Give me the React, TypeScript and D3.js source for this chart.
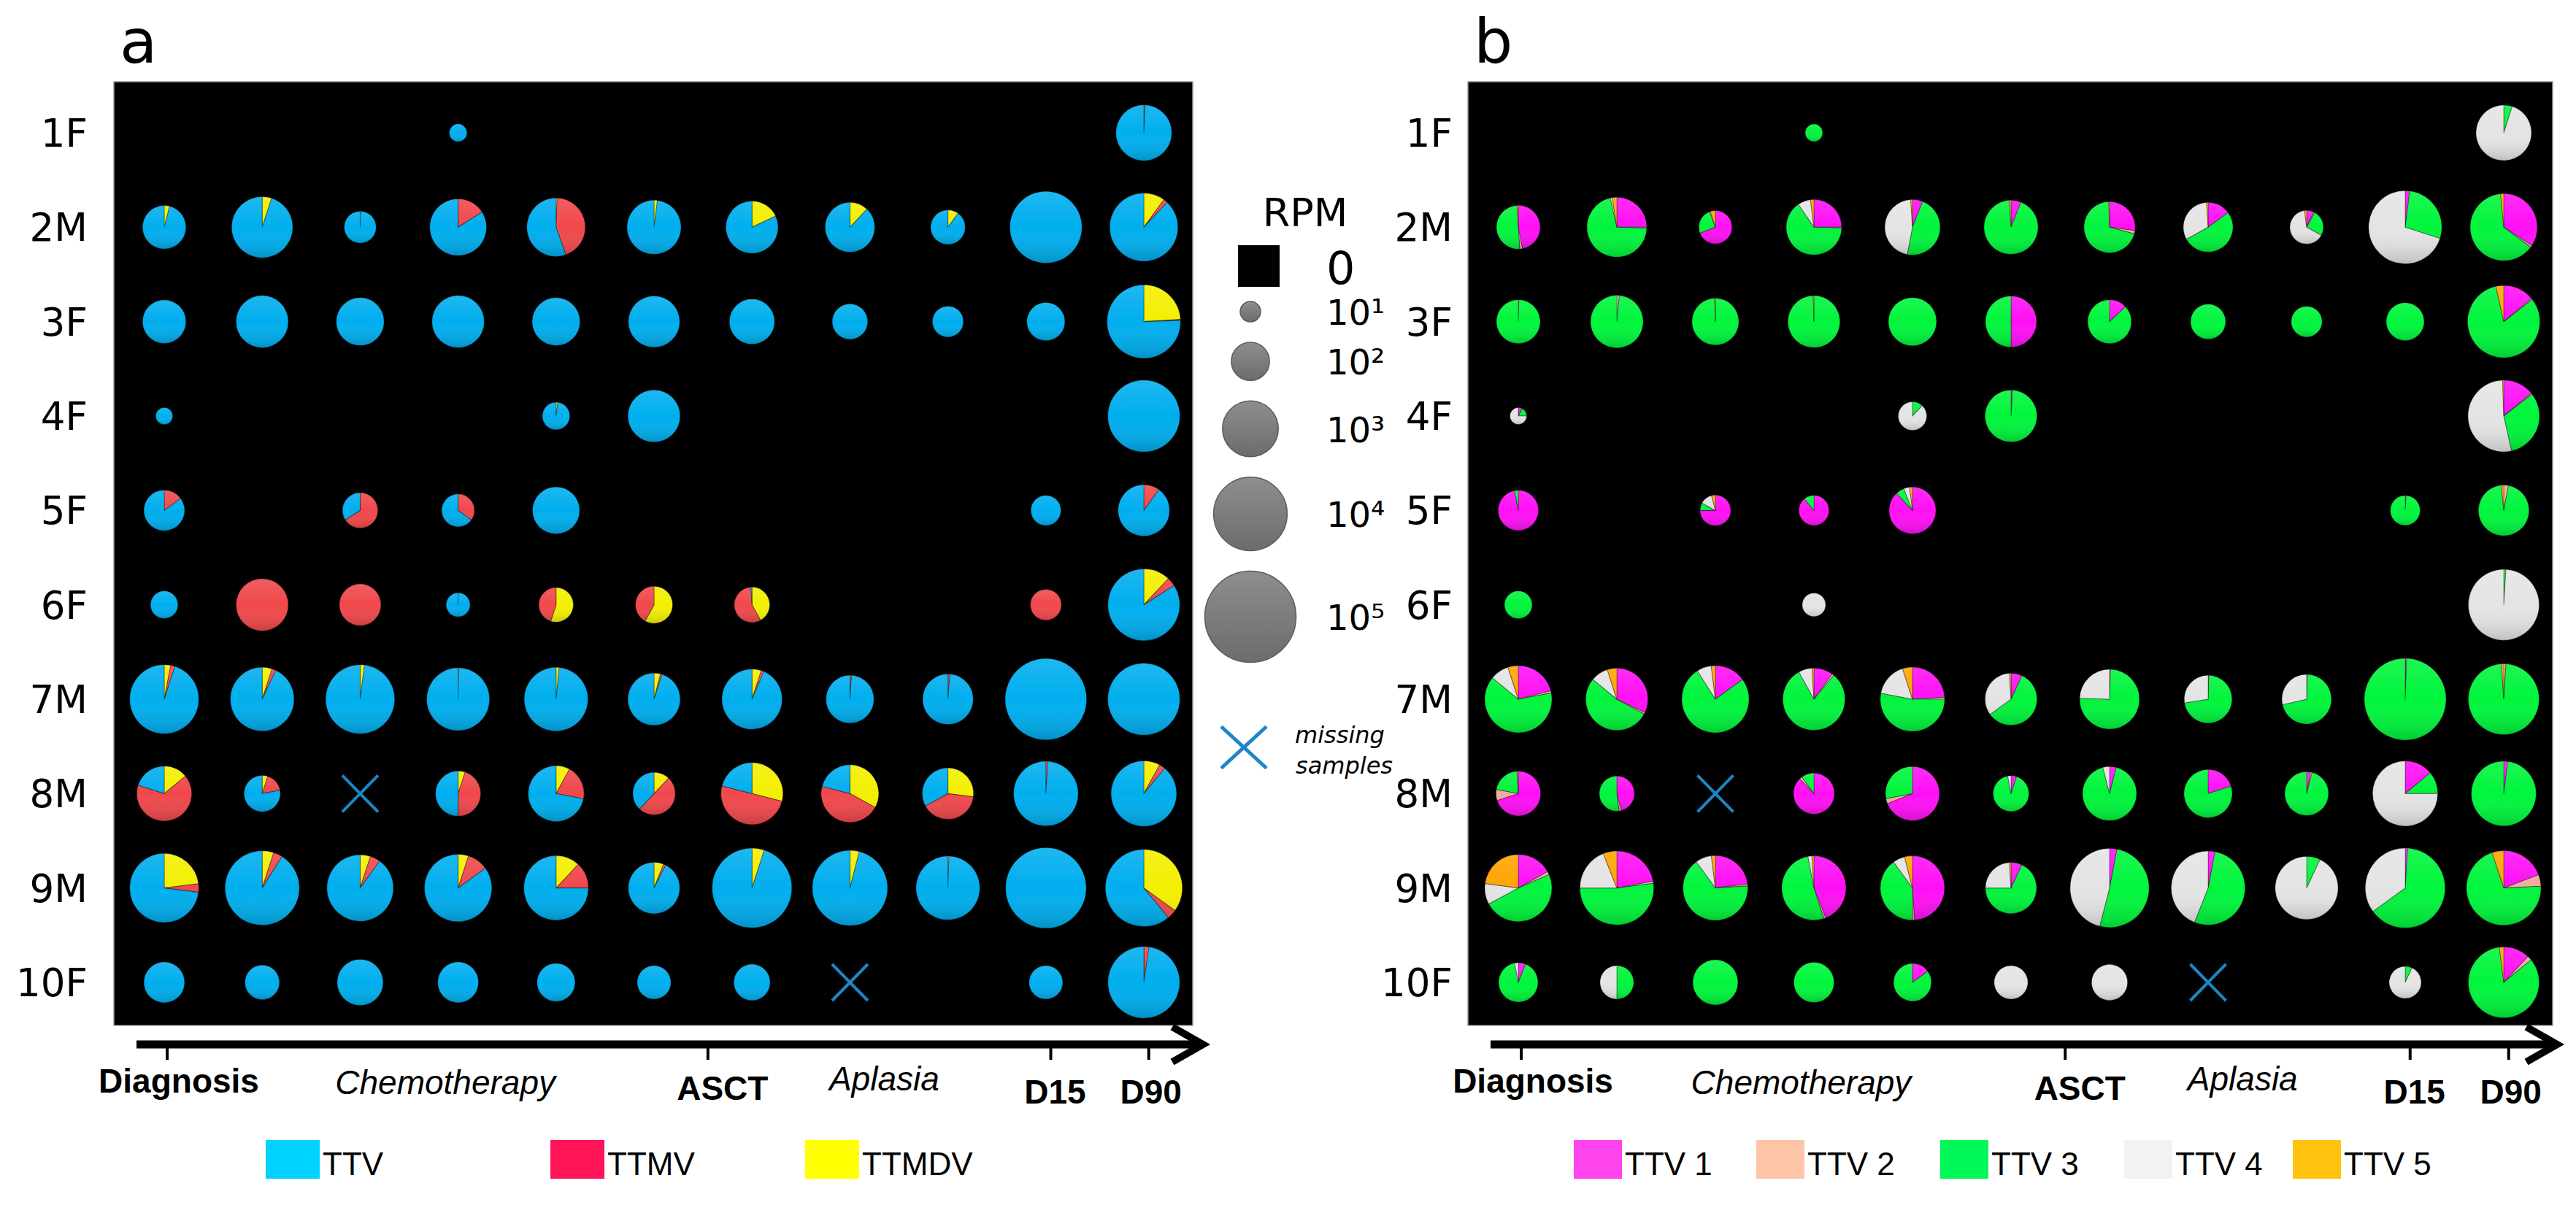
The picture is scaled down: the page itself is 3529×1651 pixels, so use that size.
import React from 'react';
import * as d3 from 'd3';

// patients (rows) and sampling points (columns)
const patients = ['1F', '2M', '3F', '4F', '5F', '6F', '7M', '8M', '9M', '10F'];
const samples = d3.range(11);

// log10(RPM) per patient / sample; 0 = not detected, null = missing sample
const rpmA: (number | null)[][] = [
  [0, 0, 0, 0.85, 0, 0, 0, 0, 0, 0, 3.0],
  [2.3, 3.3, 1.65, 3.05, 3.15, 2.9, 2.8, 2.65, 1.8, 3.9, 3.7],
  [2.3, 2.8, 2.55, 2.8, 2.55, 2.75, 2.4, 1.85, 1.6, 2.0, 4.0],
  [0.8, 0, 0, 0, 1.4, 2.8, 0, 0, 0, 0, 3.9],
  [2.15, 0, 1.85, 1.7, 2.5, 0, 0, 0, 0, 1.55, 2.75],
  [1.4, 2.8, 2.2, 1.2, 1.8, 1.95, 1.85, 0, 0, 1.6, 3.9],
  [3.75, 3.45, 3.75, 3.4, 3.45, 2.8, 3.25, 2.55, 2.7, 4.45, 3.9],
  [2.95, 1.9, null, 2.4, 3.0, 2.25, 3.35, 3.1, 2.75, 3.5, 3.55],
  [3.75, 4.05, 3.6, 3.65, 3.5, 2.75, 4.35, 4.1, 3.45, 4.4, 4.2],
  [2.15, 1.8, 2.45, 2.15, 2.0, 1.75, 1.9, null, 0, 1.75, 3.9],
];

// panel a: share (%) of each anellovirus genus
const ttmdvA = [
  [0, 0, 0, 0, 0, 0, 0, 0, 0, 0, 0.4],
  [4, 5, 0.6, 0, 0.6, 2, 18, 12, 10, 0, 10],
  [0, 0, 0, 0, 0, 0, 0, 0, 0, 0, 24],
  [0, 0, 0, 0, 2, 0, 0, 0, 0, 0, 0],
  [0, 0, 0, 0, 0, 0, 0, 0, 0, 0, 0],
  [0, 0, 0, 0.3, 55, 58, 42, 0, 0, 0, 12],
  [3, 5, 2, 0.3, 1.5, 4, 5, 0.3, 0.3, 0, 0],
  [14, 5, 0, 5, 8, 12, 29, 33, 27, 0, 8],
  [23, 5, 5, 5, 12, 6, 5, 4, 0.5, 0, 35],
  [0, 0, 0, 0, 0, 0, 0, 0, 0, 0, 0.3],
];
const ttmvA = [
  [0, 0, 0, 0, 0, 0, 0, 0, 0, 0, 0.3],
  [0, 0, 0, 16, 44, 0, 0, 0, 0, 0, 2],
  [0, 0, 0, 0, 0, 0, 0, 0, 0, 0, 0.5],
  [0, 0, 0, 0, 0, 0, 0, 0, 0, 0, 0],
  [15, 0, 66, 35, 0, 0, 0, 0, 0, 0, 10],
  [0, 100, 100, 0, 45, 42, 57, 0, 0, 100, 4],
  [2, 2, 0, 0, 0, 1, 1.5, 0.8, 1, 0, 0],
  [66, 17, 0, 45, 20, 50, 50, 46, 40, 1, 3],
  [4, 4, 5, 10, 13, 1.5, 0, 0, 0, 0, 4],
  [0, 0, 0, 0, 0, 0, 0, 0, 0, 0, 2],
];
const ttvA = [
  [0, 0, 0, 100, 0, 0, 0, 0, 0, 0, 99.3],
  [96, 95, 99.4, 84, 55.4, 98, 82, 88, 90, 100, 88],
  [100, 100, 100, 100, 100, 100, 100, 100, 100, 100, 75.5],
  [100, 0, 0, 0, 98, 100, 0, 0, 0, 0, 100],
  [85, 0, 34, 65, 100, 0, 0, 0, 0, 100, 90],
  [100, 0, 0, 99.7, 0, 0, 1, 0, 0, 0, 84],
  [95, 93, 98, 99.7, 98.5, 95, 93.5, 98.9, 98.7, 100, 100],
  [20, 78, 0, 50, 72, 38, 21, 21, 33, 99, 89],
  [73, 91, 90, 85, 75, 92.5, 95, 96, 99.5, 100, 61],
  [100, 100, 100, 100, 100, 100, 100, 0, 0, 100, 97.7],
];

// panel b: TTV species
const rpmB: (number | null)[][] = [
  [0, 0, 0, 0.83, 0, 0, 0, 0, 0, 0, 2.98],
  [2.32, 3.23, 1.72, 2.98, 2.98, 2.9, 2.74, 2.65, 1.74, 3.98, 3.64],
  [2.32, 2.82, 2.49, 2.79, 2.57, 2.74, 2.32, 1.83, 1.58, 1.99, 3.93],
  [0.79, 0, 0, 0, 1.46, 2.78, 0, 0, 0, 0, 3.89],
  [2.12, 0, 1.58, 1.55, 2.49, 0, 0, 0, 0, 1.53, 2.71],
  [1.41, 0, 0, 1.17, 0, 0, 0, 0, 0, 0, 3.85],
  [3.64, 3.36, 3.64, 3.36, 3.48, 2.78, 3.23, 2.55, 2.65, 4.47, 3.85],
  [2.37, 1.83, null, 2.16, 2.9, 1.87, 2.9, 2.57, 2.32, 3.53, 3.51],
  [3.64, 4.02, 3.51, 3.48, 3.48, 2.74, 4.31, 4.02, 3.4, 4.36, 4.06],
  [2.07, 1.74, 2.4, 2.12, 1.98, 1.74, 1.88, null, 0, 1.66, 3.85],
];
const ttv1B = [
  [0, 0, 0, 0, 0, 0, 0, 0, 0, 0, 0],
  [47, 25, 69, 25, 6, 6, 27, 15, 7, 2, 34],
  [0.4, 0, 0, 0, 0, 50, 13, 0, 0, 0, 14],
  [8, 0, 0, 0, 0, 0.5, 0, 0, 0, 0, 14],
  [97, 0, 75, 89, 88, 0, 0, 0, 0, 0.5, 0],
  [0, 0, 0, 0, 0, 0, 0, 0, 0, 0, 0],
  [21, 32, 15, 10, 24, 7, 0.5, 0.5, 0.5, 0.3, 0],
  [70, 46, 0, 88, 69, 5, 4, 20, 3, 14, 2],
  [17, 22, 23, 44, 49, 7, 3, 3, 0, 1, 19],
  [6, 0, 0, 0, 15, 0, 0, 0, 0, 0, 12],
];
const ttv2B = [
  [0, 0, 0, 0, 0, 0, 0, 0, 0, 0, 0],
  [2, 0.5, 0, 0.5, 0, 0, 2, 0, 1, 0, 1],
  [0, 1.5, 0, 0, 0, 0, 0, 0, 0, 0, 0.5],
  [0, 0, 0, 0, 0, 0.5, 0, 0, 0, 0, 0.5],
  [0, 0, 0, 0, 0, 0, 0, 0, 0, 0.5, 3],
  [0, 0, 0, 0, 0, 0, 0, 0, 0, 0, 0],
  [1, 1, 0, 1, 1, 0, 0, 0, 0, 0.3, 1],
  [8, 2, 0, 2, 3, 0, 0, 0, 1, 0, 0],
  [1.5, 1, 1, 1, 1, 0, 0, 0, 0, 0, 5],
  [0, 0, 0, 0, 0, 0, 0, 0, 0, 0, 2],
];
const ttv3B = [
  [0, 0, 0, 100, 0, 0, 0, 0, 0, 0, 5],
  [50, 71, 25, 65, 47, 93, 70, 52, 25, 28, 63],
  [99.6, 98.5, 99.5, 99.5, 100, 50, 87, 100, 100, 100, 82],
  [17, 0, 0, 0, 12, 99, 0, 0, 0, 0, 32],
  [3, 0, 8, 11, 6, 0, 0, 0, 0, 99, 95.5],
  [100, 0, 0, 0, 0, 0, 0, 0, 0, 0, 1],
  [64, 53, 76, 81, 53, 58, 75, 72, 71, 99.4, 97],
  [21, 52, 0, 10, 28, 92, 92, 80, 96, 11, 98],
  [49, 52, 66, 52, 40, 68, 51, 53, 7, 64, 70],
  [91, 50, 100, 100, 85, 0, 0, 0, 0, 7, 84],
];
const ttv4B = [
  [0, 0, 0, 0, 0, 0, 0, 0, 0, 0, 95],
  [0, 1, 0.5, 7.5, 46, 0, 0, 32, 65, 70, 0],
  [0, 0, 0, 0, 0, 0, 0, 0, 0, 0, 0],
  [75, 0, 0, 0, 88, 0, 0, 0, 0, 0, 53],
  [0, 0, 13, 0, 4, 0, 0, 0, 0, 0, 0],
  [0, 0, 0, 100, 0, 0, 0, 0, 0, 0, 99],
  [9, 9, 7, 7, 17, 34, 24.5, 27.5, 28.5, 0, 0],
  [0.5, 0, 0, 0, 0, 3, 4, 0, 0, 75, 0],
  [10, 19, 8, 2, 6, 24, 46, 44, 93, 35, 0],
  [3, 50, 0, 0, 0, 100, 100, 0, 0, 93, 0],
];
const ttv5B = [
  [0, 0, 0, 0, 0, 0, 0, 0, 0, 0, 0],
  [1, 2.5, 5, 2, 1, 1, 0.5, 1, 2, 0, 1.5],
  [0, 0, 0.5, 0.5, 0, 0, 0, 0, 0, 0, 3.5],
  [0, 0, 0, 0, 0, 0, 0, 0, 0, 0, 0.5],
  [0, 0, 4, 0, 2, 0, 0, 0, 0, 0, 1.5],
  [0, 0, 0, 0, 0, 0, 0, 0, 0, 0, 0],
  [5, 5, 2, 1, 5, 1, 0, 0, 0, 0, 1],
  [0.5, 0, 0, 0, 0, 0, 0, 0, 0, 0, 0],
  [23, 6, 2, 1, 4, 1, 0, 0, 0, 0, 5],
  [0, 0, 0, 0, 0, 0, 0, 0, 0, 0, 2],
];

// timeline
const milestones = ['Diagnosis', 'ASCT', 'D15', 'D90'];
const milestoneAt = [0.03, 5.55, 9.05, 10.05];
const periods = ['Chemotherapy', 'Aplasia'];
const periodAt = [2.87, 7.35];

// size legend (log10 RPM)
const rpmTicks = [1, 2, 3, 4, 5];
const supers = ['¹', '²', '³', '⁴', '⁵'];

const W = 3529;
const H = 1651;
const TOP = 112;
const BOTTOM = 1405;

const radius = d3.scaleLinear().domain([1, 5]).range([14, 62.5]);
const yRow = d3.scalePoint<string>().domain(patients).range([182, 1346]);

interface Series {
  name: string;
  values: number[][];
  pieColor: string;
  keyColor: string;
}

const seriesA: Series[] = [
  { name: 'TTMDV', values: ttmdvA, pieColor: '#f3ef00', keyColor: '#ffff00' },
  { name: 'TTMV', values: ttmvA, pieColor: '#f0484b', keyColor: '#ff1458' },
  { name: 'TTV', values: ttvA, pieColor: '#00aeee', keyColor: '#00d2ff' },
];
const legendOrderA = ['TTV', 'TTMV', 'TTMDV'];

const seriesB: Series[] = [
  { name: 'TTV 1', values: ttv1B, pieColor: '#ff10f5', keyColor: '#ff44ee' },
  { name: 'TTV 2', values: ttv2B, pieColor: '#f5aaa0', keyColor: '#fdc5a8' },
  { name: 'TTV 3', values: ttv3B, pieColor: '#00f53c', keyColor: '#00f85a' },
  { name: 'TTV 4', values: ttv4B, pieColor: '#e4e4e4', keyColor: '#f2f2f2' },
  { name: 'TTV 5', values: ttv5B, pieColor: '#ffa400', keyColor: '#ffc20e' },
];
const legendOrderB = ['TTV 1', 'TTV 2', 'TTV 3', 'TTV 4', 'TTV 5'];

const pie = d3.pie<{ v: number; c: string }>().value(d => d.v).sort(null);

const MissingMark: React.FC<{ cx: number; cy: number; w: number; h: number; sw: number }> = ({ cx, cy, w, h, sw }) => (
  <g stroke="#1d86c6" strokeWidth={sw}>
    <line x1={cx - w / 2} y1={cy - h / 2} x2={cx + w / 2} y2={cy + h / 2} />
    <line x1={cx - w / 2} y1={cy + h / 2} x2={cx + w / 2} y2={cy - h / 2} />
  </g>
);

interface PanelProps {
  x0: number;
  x1: number;
  letter: string;
  labelRight: number;
  rpm: (number | null)[][];
  series: Series[];
  legendOrder: string[];
  legendX: number[];
  swatchW: number;
}

const Panel: React.FC<PanelProps> = ({ x0, x1, letter, labelRight, rpm, series, legendOrder, legendX, swatchW }) => {
  const xCol = d3.scalePoint<number>().domain(samples).range([x0 + 69, x1 - 67]);
  const step = xCol.step();
  const xAt = (c: number) => (xCol(0) as number) + c * step;
  const axisY = 1431;
  const tip = x0 + 1492;

  const cells: React.ReactNode[] = [];
  patients.forEach((p, ri) => {
    samples.forEach(ci => {
      const v = rpm[ri][ci];
      const cx = xCol(ci) as number;
      const cy = yRow(p) as number;
      if (v === null) {
        cells.push(<MissingMark key={`${ri}-${ci}`} cx={cx} cy={cy} w={49} h={50} sw={4} />);
        return;
      }
      if (v <= 0) return;
      const r = radius(v);
      const parts = series.map(s => ({ v: s.values[ri][ci], c: s.pieColor })).filter(d => d.v > 0);
      const arc = d3.arc<d3.PieArcDatum<{ v: number; c: string }>>().innerRadius(0).outerRadius(r);
      cells.push(
        <g key={`${ri}-${ci}`} transform={`translate(${cx},${cy})`}>
          {pie(parts).map((a, k) => (
            <path key={k} d={arc(a) as string} fill={a.data.c} stroke="rgba(0,0,0,0.35)" strokeWidth={1.1} />
          ))}
          <circle r={r} fill="url(#shade)" />
        </g>
      );
    });
  });

  return (
    <g>
      <text x={x0 + 8} y={86} fontFamily="DejaVu Sans" fontSize={84}>{letter}</text>
      <rect x={x0} y={TOP} width={x1 - x0} height={BOTTOM - TOP} fill="#000" stroke="#9a9a9a" strokeWidth={1.5} />
      {patients.map(p => (
        <text key={p} x={labelRight} y={(yRow(p) as number) + 19} textAnchor="end" fontFamily="DejaVu Sans" fontSize={53}>{p}</text>
      ))}
      {cells}
      {/* timeline arrow */}
      <line x1={x0 + 31} y1={axisY} x2={tip - 4} y2={axisY} stroke="#000" strokeWidth={11} />
      <path d={`M${tip - 42},${axisY - 24} L${tip},${axisY} L${tip - 42},${axisY + 24}`} fill="none" stroke="#000" strokeWidth={10} />
      {milestones.map((m, i) => (
        <g key={m}>
          <line x1={xAt(milestoneAt[i])} x2={xAt(milestoneAt[i])} y1={axisY + 5} y2={1452} stroke="#000" strokeWidth={4} />
          <text x={xAt(milestoneAt[i]) + [16, 20, 6, 3][i]} y={[1497, 1507, 1512, 1512][i]} textAnchor="middle"
            fontFamily="Liberation Sans" fontWeight="bold" fontSize={46}>{m}</text>
        </g>
      ))}
      {periods.map((m, i) => (
        <text key={m} x={xAt(periodAt[i])} y={[1499, 1494][i]} textAnchor="middle" fontFamily="Liberation Sans"
          fontStyle="italic" fontSize={46}>{m}</text>
      ))}
      {/* colour key */}
      {legendOrder.map((name, i) => {
        const s = series.find(d => d.name === name)!;
        return (
          <g key={name}>
            <rect x={legendX[i]} y={1562} width={swatchW} height={53} fill={s.keyColor} />
            <text x={legendX[i] + swatchW + 4} y={1610} fontFamily="Liberation Sans" fontSize={44}>{name}</text>
          </g>
        );
      })}
    </g>
  );
};

const SizeLegend: React.FC = () => {
  const cx = 1713;
  let cy = 427;
  const ys: number[] = [];
  rpmTicks.forEach((t, i) => {
    if (i > 0) cy += radius(rpmTicks[i - 1]) + radius(t) + 28;
    ys.push(cy);
  });
  return (
    <g>
      <text x={1788} y={310} textAnchor="middle" fontFamily="DejaVu Sans" fontSize={54}>RPM</text>
      <rect x={1696} y={336} width={57} height={57} fill="#000" />
      <text x={1817} y={389} fontFamily="DejaVu Sans" fontSize={62}>0</text>
      {rpmTicks.map((t, i) => (
        <g key={t}>
          <circle cx={cx} cy={ys[i]} r={radius(t)} fill="url(#greyball)" stroke="#5c5c5c" strokeWidth={1.5} />
          <text x={1817} y={ys[i] + 18} fontFamily="DejaVu Sans" fontSize={48}>{`10${supers[i]}`}</text>
        </g>
      ))}
      <MissingMark cx={1704} cy={1024} w={62} h={57} sw={5} />
      <text x={1774} y={1018} fontFamily="DejaVu Sans" fontStyle="italic" fontSize={32}>missing</text>
      <text x={1775} y={1060} fontFamily="DejaVu Sans" fontStyle="italic" fontSize={32}>samples</text>
    </g>
  );
};

export default function App() {
  return (
    <svg width={W} height={H} viewBox={`0 0 ${W} ${H}`} style={{ position: 'absolute', left: 0, top: 0, background: '#fff' }}>
      <defs>
        <linearGradient id="shade" x1="0" y1="0" x2="0" y2="1">
          <stop offset="0" stopColor="#fff" stopOpacity={0.12} />
          <stop offset="0.5" stopColor="#fff" stopOpacity={0} />
          <stop offset="1" stopColor="#000" stopOpacity={0.16} />
        </linearGradient>
        <linearGradient id="greyball" x1="0" y1="0" x2="0" y2="1">
          <stop offset="0" stopColor="#8e8e8e" />
          <stop offset="1" stopColor="#6c6c6c" />
        </linearGradient>
      </defs>
      <rect width={W} height={H} fill="#fff" />
      <Panel x0={156} x1={1634} letter="a" labelRight={120} rpm={rpmA} series={seriesA}
        legendOrder={legendOrderA} legendX={[364, 754, 1103]} swatchW={74} />
      <Panel x0={2011} x1={3497} letter="b" labelRight={1990} rpm={rpmB} series={seriesB}
        legendOrder={legendOrderB} legendX={[2156, 2406, 2658, 2910, 3141]} swatchW={66} />
      <SizeLegend />
    </svg>
  );
}
